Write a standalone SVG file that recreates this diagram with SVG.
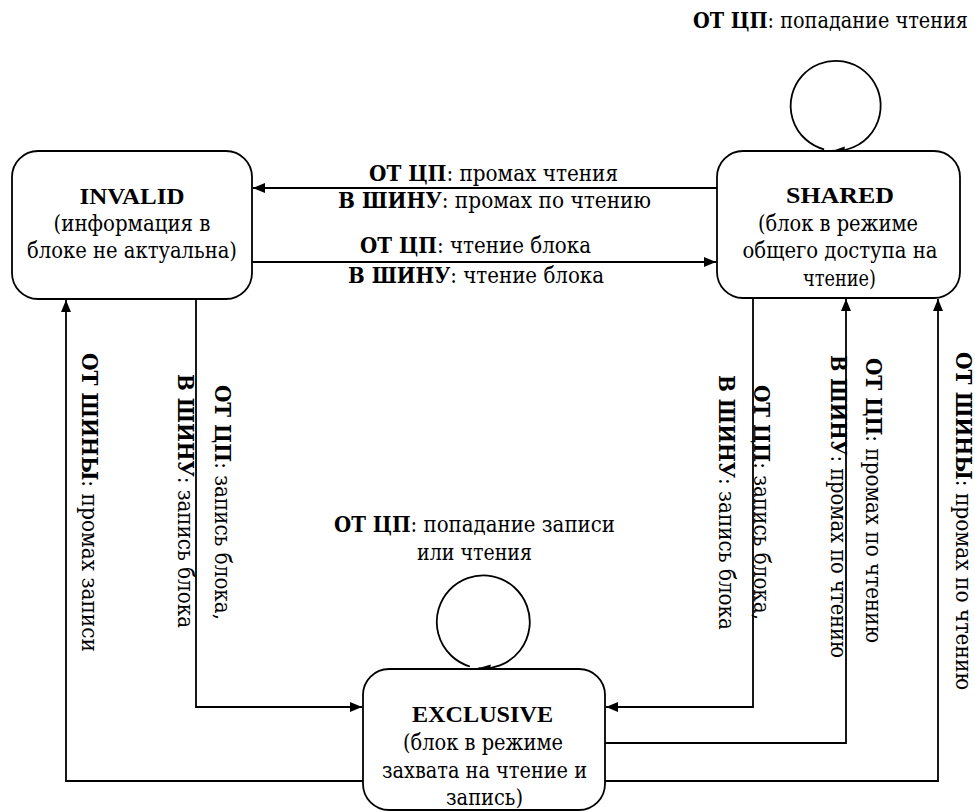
<svg xmlns="http://www.w3.org/2000/svg" width="975" height="812" viewBox="0 0 975 812">
<style>
text{font-family:"DejaVu Serif","Liberation Serif",serif;font-size:22px;fill:#000}
text.lat{font-family:"Liberation Serif","Times New Roman",serif;font-size:24px}
.b{font-weight:bold}
.m{text-anchor:middle}
.node rect{fill:#fff;stroke:#000;stroke-width:1.8}
#connectors path{fill:none;stroke:#000;stroke-width:1.8;marker-end:url(#arr)}
</style>
<defs>
<marker id="arr" markerUnits="userSpaceOnUse" markerWidth="13" markerHeight="11" refX="12" refY="5" orient="auto">
<path d="M0,0 L12,5 L0,10 z" fill="#000"/>
</marker>
</defs>
<rect width="975" height="812" fill="#fff"/>
<g id="connectors">
<path d="M717,188 L253,188"/>
<path d="M252,262 L716,262"/>
<path d="M824.1,149.3 A45,45 0 1 1 832.5,150.7"/>
<path d="M469.9,666.5 A46.5,46.5 0 1 1 478.3,668.2"/>
<path d="M196,299 L196,707 L362,707"/>
<path d="M363,781 L66,781 L66,300"/>
<path d="M753,298 L753,707 L606,707"/>
<path d="M605,743 L846,743 L846,299"/>
<path d="M605,781 L938,781 L938,299"/>
</g>
<g id="edge-labels">
<text class="m" x="493.5" y="181" textLength="249" lengthAdjust="spacingAndGlyphs"><tspan class="b">ОТ ЦП</tspan>: промах чтения</text>
<text class="m" x="494.5" y="208" textLength="313" lengthAdjust="spacingAndGlyphs"><tspan class="b">В ШИНУ</tspan>: промах по чтению</text>
<text class="m" x="475.5" y="253" textLength="231" lengthAdjust="spacingAndGlyphs"><tspan class="b">ОТ ЦП</tspan>: чтение блока</text>
<text class="m" x="476" y="283" textLength="256" lengthAdjust="spacingAndGlyphs"><tspan class="b">В ШИНУ</tspan>: чтение блока</text>
<text class="m" x="830.5" y="28" textLength="275" lengthAdjust="spacingAndGlyphs"><tspan class="b">ОТ ЦП</tspan>: попадание чтения</text>
<text class="m" x="474.5" y="532" textLength="281" lengthAdjust="spacingAndGlyphs"><tspan class="b">ОТ ЦП</tspan>: попадание записи</text>
<text class="m" x="474.5" y="560" textLength="115" lengthAdjust="spacingAndGlyphs">или чтения</text>
<text class="m" transform="translate(82,502.5) rotate(90)" textLength="299" lengthAdjust="spacingAndGlyphs"><tspan class="b">ОТ ШИНЫ</tspan>: промах записи</text>
<text class="m" transform="translate(215,502.5) rotate(90)" textLength="235" lengthAdjust="spacingAndGlyphs"><tspan class="b">ОТ ЦП</tspan>: запись блока,</text>
<text class="m" transform="translate(178,501) rotate(90)" textLength="254" lengthAdjust="spacingAndGlyphs"><tspan class="b">В ШИНУ</tspan>: запись блока</text>
<text class="m" transform="translate(754,502.5) rotate(90)" textLength="235" lengthAdjust="spacingAndGlyphs"><tspan class="b">ОТ ЦП</tspan>: запись блока,</text>
<text class="m" transform="translate(719,502.5) rotate(90)" textLength="255" lengthAdjust="spacingAndGlyphs"><tspan class="b">В ШИНУ</tspan>: запись блока</text>
<text class="m" transform="translate(866,500.5) rotate(90)" textLength="285" lengthAdjust="spacingAndGlyphs"><tspan class="b">ОТ ЦП</tspan>: промах по чтению</text>
<text class="m" transform="translate(831,506.5) rotate(90)" textLength="303" lengthAdjust="spacingAndGlyphs"><tspan class="b">В ШИНУ</tspan>: промах по чтению</text>
<text class="m" transform="translate(956,521) rotate(90)" textLength="338" lengthAdjust="spacingAndGlyphs"><tspan class="b">ОТ ШИНЫ</tspan>: промах по чтению</text>
</g>
<g id="invalid" class="node">
<rect x="12" y="151" width="240" height="148" rx="26" ry="26"/>
<text class="m b lat" x="132" y="204" textLength="105" lengthAdjust="spacingAndGlyphs">INVALID</text>
<text class="m" x="132" y="231" textLength="157" lengthAdjust="spacingAndGlyphs">(информация в</text>
<text class="m" x="132" y="258" textLength="210" lengthAdjust="spacingAndGlyphs">блоке не актуальна)</text>
</g>
<g id="shared" class="node">
<rect x="717" y="151" width="243" height="147" rx="26" ry="26"/>
<text class="m b lat" x="840" y="203" textLength="108" lengthAdjust="spacingAndGlyphs">SHARED</text>
<text class="m" x="838" y="231" textLength="160" lengthAdjust="spacingAndGlyphs">(блок в режиме</text>
<text class="m" x="840" y="258" textLength="195" lengthAdjust="spacingAndGlyphs">общего доступа на</text>
<text class="m" x="839.5" y="286" textLength="73" lengthAdjust="spacingAndGlyphs">чтение)</text>
</g>
<g id="exclusive" class="node">
<rect x="363" y="669" width="242" height="141" rx="26" ry="26"/>
<text class="m b lat" x="482.5" y="722" textLength="141" lengthAdjust="spacingAndGlyphs">EXCLUSIVE</text>
<text class="m" x="483" y="750" textLength="160" lengthAdjust="spacingAndGlyphs">(блок в режиме</text>
<text class="m" x="484.5" y="777.5" textLength="205" lengthAdjust="spacingAndGlyphs">захвата на чтение и</text>
<text class="m" x="484.5" y="805" textLength="77" lengthAdjust="spacingAndGlyphs">запись)</text>
</g>
</svg>
